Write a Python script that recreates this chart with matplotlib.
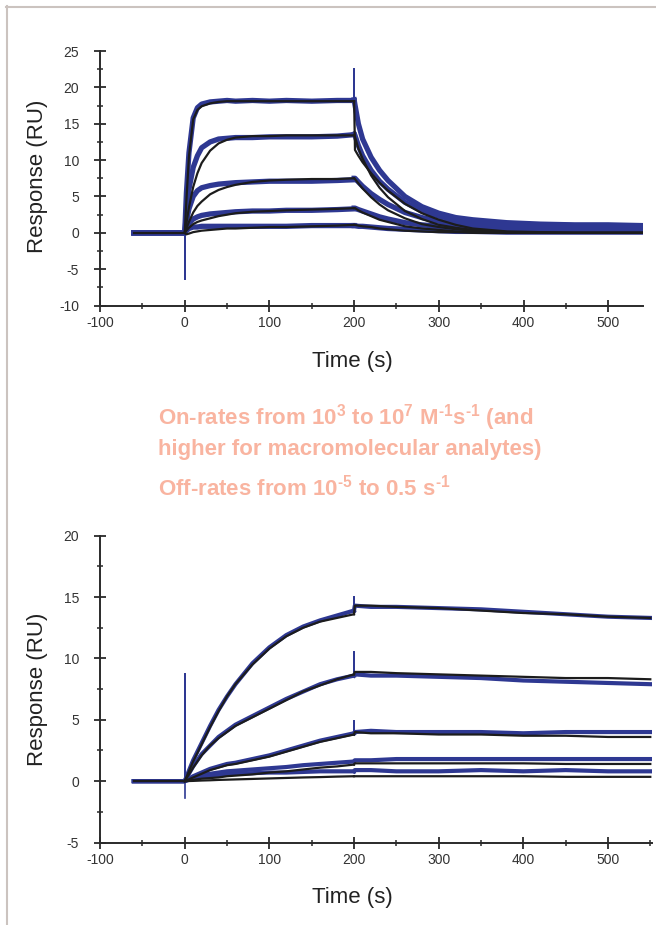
import matplotlib.pyplot as plt
from matplotlib.lines import Line2D
from matplotlib.ticker import MultipleLocator

plt.rcParams['font.family'] = ['Liberation Sans', 'DejaVu Sans']
plt.rcParams['axes.unicode_minus'] = False
plt.rcParams['mathtext.fontset'] = 'custom'
plt.rcParams['mathtext.rm'] = 'Liberation Sans:bold'
plt.rcParams['mathtext.it'] = 'Liberation Sans:bold'
plt.rcParams['mathtext.bf'] = 'Liberation Sans:bold'
plt.rcParams['mathtext.fallback'] = 'stixsans'

BLUE = '#2e3892'
FIT = '#1c1c1c'
AXC = '#2a2a2a'
SALMON = '#f9b4a0'

# ---------------- TOP SENSORGRAM (fast kinetics) ----------------
t_top_on = [-60, -30, 0, 2, 5, 10, 15, 20, 30, 40, 50, 60, 80, 100, 120, 150, 180, 200]
top_on_data = [
    [0, 0, 0, 5.5, 11.0, 15.8, 17.2, 17.7, 18.0, 18.1, 18.2, 18.1, 18.2, 18.1, 18.2, 18.1, 18.2, 18.2],
    [0, 0, 0, 2.5, 6.0, 9.0, 10.6, 11.7, 12.5, 12.9, 13.0, 13.1, 13.1, 13.2, 13.2, 13.2, 13.3, 13.5],
    [0, 0, 0, 1.5, 3.3, 5.0, 5.8, 6.2, 6.5, 6.7, 6.8, 6.9, 7.0, 7.1, 7.1, 7.1, 7.2, 7.3],
    [0, 0, 0, 0.6, 1.3, 1.9, 2.2, 2.4, 2.6, 2.7, 2.8, 2.9, 3.0, 3.0, 3.1, 3.1, 3.2, 3.3],
    [0, 0, 0, 0.3, 0.6, 0.8, 0.8, 0.9, 0.9, 0.9, 0.9, 0.9, 0.9, 0.9, 0.9, 1.0, 1.0, 1.0],
]
top_on_fit = [
    [0, 0, 0, 4.5, 10.5, 15.6, 16.9, 17.4, 17.8, 18.0, 18.1, 18.1, 18.1, 18.1, 18.1, 18.1, 18.1, 18.1],
    [0, 0, 0, 1.3, 3.5, 6.3, 8.2, 9.6, 11.3, 12.3, 12.8, 13.1, 13.3, 13.3, 13.4, 13.4, 13.4, 13.4],
    [0, 0, 0, 0.6, 1.5, 2.8, 3.7, 4.3, 5.3, 5.9, 6.3, 6.6, 7.0, 7.2, 7.3, 7.4, 7.4, 7.5],
    [0, 0, 0, 0.3, 0.7, 1.2, 1.5, 1.7, 2.0, 2.3, 2.5, 2.7, 2.9, 3.0, 3.1, 3.2, 3.3, 3.4],
    [0, 0, 0, -0.2, -0.1, 0.1, 0.2, 0.3, 0.4, 0.5, 0.6, 0.6, 0.7, 0.8, 0.8, 0.9, 1.0, 1.1],
]
t_top_off = [200, 201, 205, 210, 220, 230, 240, 260, 280, 300, 320, 340, 380, 420, 460, 500, 540]
top_off_data = [
    [18.3, 17.6, 15.0, 12.9, 10.4, 8.6, 7.2, 5.0, 3.6, 2.7, 2.1, 1.8, 1.4, 1.2, 1.1, 1.1, 1.0],
    [13.6, 13.4, 12.0, 10.6, 8.6, 7.1, 6.0, 4.2, 3.0, 2.3, 1.8, 1.5, 1.2, 1.1, 1.0, 1.0, 0.9],
    [7.5, 7.5, 7.0, 6.4, 5.4, 4.6, 3.9, 2.8, 2.1, 1.6, 1.3, 1.1, 0.9, 0.8, 0.8, 0.7, 0.7],
    [3.4, 3.4, 3.2, 3.0, 2.6, 2.2, 1.9, 1.4, 1.1, 0.9, 0.8, 0.7, 0.6, 0.6, 0.6, 0.5, 0.5],
    [1.0, 1.0, 0.9, 0.9, 0.8, 0.7, 0.6, 0.5, 0.4, 0.3, 0.2, 0.2, 0.1, 0.1, 0.1, 0.1, 0.1],
]
top_off_fit = [
    [18.1, 11.4, 10.6, 9.7, 8.2, 6.9, 5.8, 4.0, 2.7, 1.8, 1.1, 0.6, 0.2, 0.1, 0.0, 0.0, 0.0],
    [13.4, 13.2, 11.6, 10.2, 7.9, 6.2, 4.9, 3.0, 1.9, 1.1, 0.7, 0.4, 0.1, 0.0, 0.0, 0.0, 0.0],
    [7.5, 7.4, 6.8, 6.1, 4.9, 3.9, 3.1, 2.0, 1.2, 0.8, 0.5, 0.3, 0.1, 0.0, 0.0, 0.0, 0.0],
    [3.4, 3.4, 3.1, 2.8, 2.3, 1.8, 1.5, 0.9, 0.6, 0.4, 0.2, 0.1, 0.0, 0.0, 0.0, 0.0, 0.0],
    [1.1, 1.1, 1.0, 0.9, 0.8, 0.6, 0.5, 0.3, 0.2, 0.1, 0.1, 0.0, 0.0, 0.0, 0.0, 0.0, 0.0],
]
# injection spikes
top_spike_t = [[0, 0, 0], [200, 200, 200]]
top_spike_y = [[0, -6.4, 0.5], [18.2, 22.5, 17.8]]

# ---------------- BOTTOM SENSORGRAM (slow kinetics) ----------------
t_bot_on = [-60, -30, 0, 10, 20, 30, 40, 50, 60, 80, 100, 120, 140, 160, 180, 200]
bot_on_data = [
    [0, 0, 0, 1.7, 3.1, 4.5, 5.8, 6.9, 7.9, 9.6, 10.9, 11.9, 12.6, 13.1, 13.5, 13.9],
    [0, 0, 0, 1.2, 2.2, 2.9, 3.6, 4.1, 4.6, 5.3, 6.0, 6.7, 7.3, 7.9, 8.3, 8.6],
    [0, 0, 0, 0.4, 0.7, 1.0, 1.2, 1.4, 1.5, 1.8, 2.1, 2.5, 2.9, 3.3, 3.6, 3.9],
    [0, 0, 0, 0.3, 0.5, 0.6, 0.7, 0.8, 0.85, 0.95, 1.05, 1.15, 1.3, 1.4, 1.5, 1.6],
    [0, 0, 0, 0.2, 0.35, 0.45, 0.5, 0.55, 0.6, 0.65, 0.7, 0.7, 0.75, 0.8, 0.8, 0.8],
]
bot_on_fit = [
    [0, 0, 0, 1.6, 3.0, 4.4, 5.7, 6.9, 7.9, 9.5, 10.8, 11.8, 12.5, 13.0, 13.3, 13.6],
    [0, 0, 0, 1.1, 2.1, 2.9, 3.5, 4.0, 4.5, 5.2, 5.9, 6.6, 7.3, 7.8, 8.3, 8.7],
    [0, 0, 0, 0.3, 0.6, 0.9, 1.1, 1.3, 1.4, 1.7, 2.0, 2.4, 2.8, 3.2, 3.5, 3.8],
    [0, 0, 0, 0.1, 0.2, 0.25, 0.3, 0.4, 0.45, 0.55, 0.7, 0.8, 0.95, 1.1, 1.2, 1.35],
    [0, 0, 0, 0.02, 0.05, 0.07, 0.1, 0.12, 0.14, 0.18, 0.22, 0.26, 0.3, 0.33, 0.37, 0.4],
]
t_bot_off = [200, 201, 220, 250, 300, 350, 400, 450, 500, 550]
bot_off_data = [
    [13.9, 14.3, 14.2, 14.2, 14.1, 14.0, 13.8, 13.6, 13.4, 13.3],
    [8.6, 8.7, 8.6, 8.6, 8.5, 8.4, 8.2, 8.1, 8.0, 7.9],
    [3.9, 4.0, 4.1, 4.0, 4.0, 4.0, 3.9, 4.0, 4.0, 4.0],
    [1.6, 1.7, 1.7, 1.8, 1.8, 1.8, 1.8, 1.8, 1.8, 1.8],
    [0.8, 0.9, 0.9, 0.8, 0.8, 0.9, 0.8, 0.9, 0.8, 0.8],
]
bot_off_fit = [
    [13.6, 14.3, 14.3, 14.2, 14.1, 13.9, 13.7, 13.6, 13.4, 13.3],
    [8.7, 8.9, 8.9, 8.8, 8.7, 8.6, 8.5, 8.4, 8.4, 8.3],
    [3.8, 4.0, 3.9, 3.9, 3.8, 3.8, 3.7, 3.7, 3.6, 3.6],
    [1.35, 1.45, 1.45, 1.45, 1.45, 1.45, 1.45, 1.4, 1.4, 1.4],
    [0.4, 0.4, 0.4, 0.4, 0.4, 0.4, 0.4, 0.35, 0.35, 0.35],
]
bot_spike_t = [[0, 0, 0], [200, 200, 200], [200, 200, 200], [200, 200, 200]]
bot_spike_y = [[0, 8.7, -1.4], [13.9, 15.0, 14.3], [8.6, 10.5, 8.7], [3.9, 4.9, 4.0]]

caption = [
    "On-rates from 10$^{3}$ to 10$^{7}$ M$^{\u2010 1}$s$^{\u2010 1}$ (and",
    "higher for macromolecular analytes)",
    "Off-rates from 10$^{\u2010 5}$ to 0.5 s$^{\u2010 1}$",
]

fig = plt.figure(figsize=(6.56, 9.25), dpi=100)
W, H = 656, 925


def style_axes(ax, xlim, ylim, yticks):
    ax.set_xlim(*xlim)
    ax.set_ylim(*ylim)
    ax.set_yticks(yticks)
    ax.set_xticks([-100, 0, 100, 200, 300, 400, 500])
    ax.xaxis.set_minor_locator(MultipleLocator(50))
    ax.yaxis.set_minor_locator(MultipleLocator(2.5))
    for s in ['top', 'right']:
        ax.spines[s].set_visible(False)
    for s in ['left', 'bottom']:
        ax.spines[s].set_color(AXC)
        ax.spines[s].set_linewidth(1.4)
    ax.tick_params(which='major', direction='inout', length=8, width=1.3, color=AXC,
                   labelsize=10, labelcolor='#333333')
    ax.tick_params(which='minor', direction='inout', length=5, width=1.1, color=AXC)
    ax.tick_params(axis='x', which='major', pad=3.5)
    ax.tick_params(axis='y', which='major', pad=11)


def draw(ax, t_on, on_data, on_fit, t_off, off_data, off_fit, sp_t, sp_y, lw):
    for i in range(len(on_data)):
        ax.plot(t_on, on_data[i], color=BLUE, lw=lw, solid_joinstyle='round')
        ax.plot(t_off, off_data[i], color=BLUE, lw=lw, solid_joinstyle='round')
    for i in range(len(sp_t)):
        ax.plot(sp_t[i], sp_y[i], color=BLUE, lw=1.2)
    for i in range(len(on_fit)):
        ax.plot(t_on[2:], on_fit[i][2:], color=FIT, lw=1.6)
        ax.plot(t_off, off_fit[i], color=FIT, lw=1.6)
    ax.plot(t_on[:3], on_fit[0][:3], color=FIT, lw=1.6)


def px_axes(left, top, right, bottom):
    return fig.add_axes([left / W, 1 - bottom / H, (right - left) / W, (bottom - top) / H])


ax1 = px_axes(100, 51, 643, 305.6)
style_axes(ax1, (-100, 541), (-10, 25), range(-10, 30, 5))
draw(ax1, t_top_on, top_on_data, top_on_fit, t_top_off, top_off_data, top_off_fit,
     top_spike_t, top_spike_y, 3.8)

ax2 = px_axes(100, 535.7, 652, 842.5)
style_axes(ax2, (-100, 552), (-5, 20), range(-5, 25, 5))
draw(ax2, t_bot_on, bot_on_data, bot_on_fit, t_bot_off, bot_off_data, bot_off_fit,
     bot_spike_t, bot_spike_y, 3.0)

# axis titles
fig.text(38 / W, 1 - 176 / H, 'Response (RU)', rotation=90, ha='center', va='center',
         fontsize=16, color='#222222')
fig.text(38 / W, 1 - 689 / H, 'Response (RU)', rotation=90, ha='center', va='center',
         fontsize=16, color='#222222')
fig.text(352 / W, 1 - 362 / H, 'Time (s)', ha='center', va='center', fontsize=16, color='#222222')
fig.text(352 / W, 1 - 898 / H, 'Time (s)', ha='center', va='center', fontsize=16, color='#222222')

# salmon caption
for y, line in zip([418, 450, 488], caption):
    fig.text(158 / W, 1 - y / H, line, ha='left', va='center', fontsize=16,
             fontweight='bold', color=SALMON)

# page frame (top and left rules)
fig.add_artist(Line2D([6 / W, 1], [1 - 7 / H, 1 - 7 / H], color='#cbc3bf', lw=1.5))
fig.add_artist(Line2D([7 / W, 7 / W], [0, 1 - 6 / H], color='#cbc3bf', lw=1.5))

fig.savefig('out.png', dpi=100, facecolor='white')
